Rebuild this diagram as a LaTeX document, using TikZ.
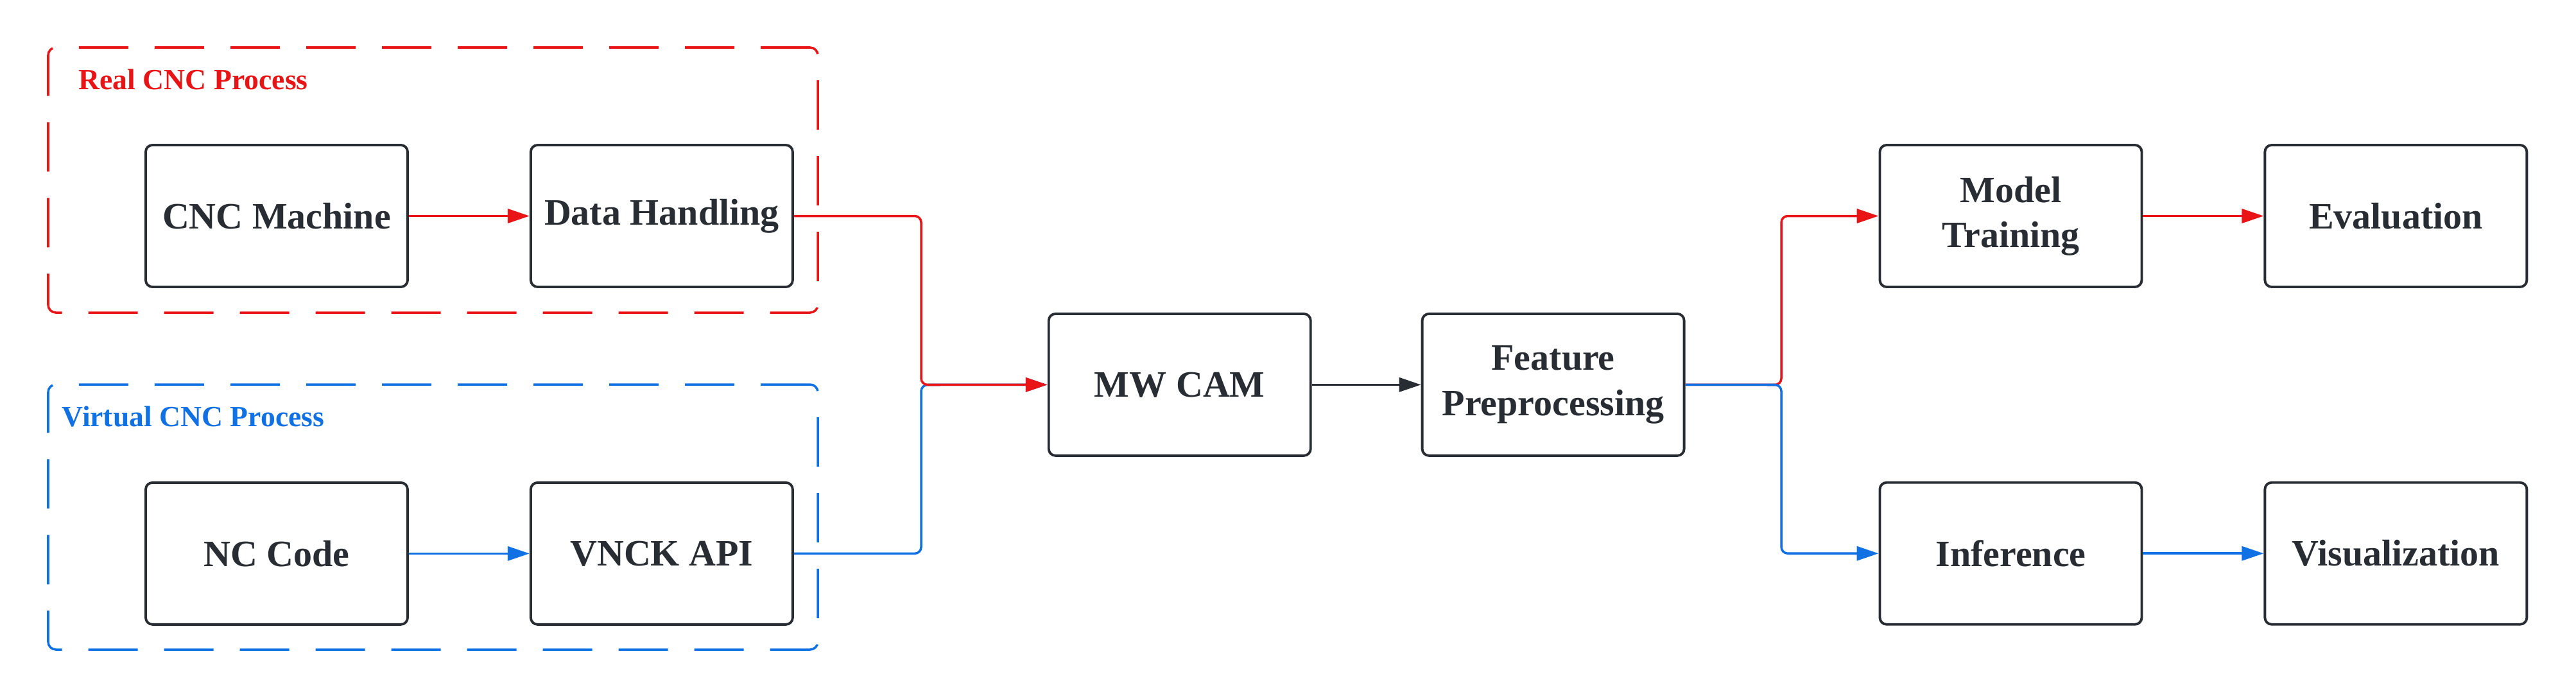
\documentclass[tikz,border=0pt]{standalone}
\usepackage{fontspec}
\setmainfont{Liberation Serif}
\usetikzlibrary{arrows.meta, positioning}
\definecolor{procred}{HTML}{E81416}
\definecolor{procblue}{HTML}{1071E5}
\definecolor{boxdark}{HTML}{282C33}

\begin{document}
\begin{tikzpicture}[
        node distance=1.88cm and 1.88cm,
        % Styles for the process boxes
        procbox/.style={
                rectangle,
                rounded corners=3pt,
                draw=boxdark,
                line width=1.1pt,
                minimum width=4.08cm,
                minimum height=2.21cm,
                align=center,
                font=\fontsize{16.5}{20}\selectfont\bfseries,
                text=boxdark
            },
        % Dashed groups
        groupbox/.style={
                rectangle,
                rounded corners=0.12cm,
                line width=1pt,
                dash pattern=on 0.77cm off 0.41cm,
                minimum width=11.99cm,
                minimum height=4.13cm
            },
        grouplabel/.style={
                anchor=west,
                inner sep=0pt,
                font=\fontsize{13}{16}\selectfont\bfseries
            },
        % Arrows
        flow/.style={
                -{Triangle[length=0.34cm, width=0.22cm]},
                line width=1pt,
                rounded corners=0.1cm
            }
    ]

    \useasboundingbox (0,0) rectangle (40.13,-10.88);

    % GROUPS (left)
    \node[groupbox, draw=procred] (realgroup) at (6.745,-2.805) {};
    \node[groupbox, draw=procblue] (virtualgroup) at (6.745,-8.055) {};
    \node[grouplabel, text=procred] (reallabel) at (1.22,-1.24) {Real CNC Process};
    \node[grouplabel, text=procblue] (virtuallabel) at (0.96,-6.49) {Virtual CNC Process};

    % REAL CNC (top row)
    \node[procbox] (machine) at (4.31,-3.365) {CNC Machine};
    \node[procbox, right=of machine] (handling) {Data Handling};

    % VIRTUAL CNC (bottom row)
    \node[procbox, below=3.01cm of machine] (nccode) {NC Code};
    \node[procbox, right=of nccode] (vnck) {VNCK API};

    % MIDDLE
    \node[procbox, below right=0.38cm and 3.95cm of handling] (mwcam) {MW CAM};
    \node[procbox, right=1.70cm of mwcam] (feature) {Feature\\Preprocessing};

    % OUTPUT (right)
    \node[procbox, above right=0.38cm and 3.01cm of feature] (training) {Model\\Training};
    \node[procbox, right=of training] (evaluation) {Evaluation};
    \node[procbox, below right=0.38cm and 3.01cm of feature] (inference) {Inference};
    \node[procbox, right=of inference] (visual) {Visualization};

    % branch points
    \coordinate (mergeleft) at (14.35,-5.995);
    \coordinate (splitright) at (27.75,-5.995);

    % ARROWS
    \draw[flow, procred] (machine) -- (handling);
    \draw[flow, procblue] (nccode) -- (vnck);
    \draw[flow, procblue] (vnck.east) -| (mergeleft) -- (mwcam.west);
    \draw[flow, procred] (handling.east) -| (mergeleft) -- (mwcam.west);
    \draw[flow, boxdark] (mwcam) -- (feature);
    \draw[flow, procred] (feature.east) -- (splitright) |- (training.west);
    \draw[flow, procblue] (feature.east) -- (splitright) |- (inference.west);
    \draw[flow, procred] (training) -- (evaluation);
    \draw[flow, procblue] (inference) -- (visual);

\end{tikzpicture}
\end{document}
